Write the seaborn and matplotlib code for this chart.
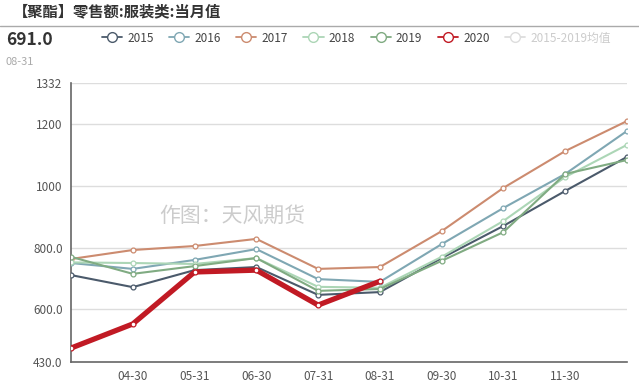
import matplotlib
matplotlib.use('Agg')
import matplotlib.pyplot as plt
from matplotlib.lines import Line2D
import seaborn as sns
import pandas as pd

months = ['03-31', '04-30', '05-31', '06-30', '07-31', '08-31', '09-30', '10-31', '11-30', '12-31']
y2015 = [711, 672, 727, 737, 647, 656, 766, 870, 983, 1093]
y2016 = [750, 731, 760, 795, 698, 689, 811, 928, 1038, 1177]
y2017 = [763, 792, 805, 828, 731, 737, 853, 993, 1112, 1209]
y2018 = [752, 750, 747, 766, 673, 670, 770, 886, 1028, 1132]
y2019 = [770, 715, 740, 766, 660, 666, 757, 850, 1038, 1083]
y2020 = [475, 553, 721, 727, 614, 691]
y_ticks = [430, 600, 800, 1000, 1200, 1332]
y_tick_labels = ['430.0', '600.0', '800.0', '1000', '1200', '1332']

sns.set_style('white')
plt.rcParams['font.family'] = ['Noto Sans CJK SC', 'DejaVu Sans']

series = {'2015': y2015, '2016': y2016, '2017': y2017,
          '2018': y2018, '2019': y2019, '2020': y2020}
colors = {'2015': '#4b5a6b', '2016': '#7fa7b3', '2017': '#cc8b6f',
          '2018': '#acd6b6', '2019': '#80ab82', '2020': '#c11a24'}

rows = []
for name, vals in series.items():
    for i, v in enumerate(vals):
        rows.append({'year': name, 'idx': i, 'value': v})
df = pd.DataFrame(rows)

fig = plt.figure(figsize=(6.39, 3.9), dpi=100)
ax = fig.add_axes([71 / 639, 28 / 390, 556 / 639, 279 / 390])

for name in series:
    d = df[df['year'] == name]
    lw = 3.8 if name == '2020' else 1.5
    sns.lineplot(data=d, x='idx', y='value', ax=ax, color=colors[name], lw=lw,
                 marker='o', markersize=3.5, markerfacecolor='white',
                 markeredgecolor=colors[name], markeredgewidth=0.9,
                 zorder=5 if name == '2020' else 3, legend=False)

ax.set_xlim(0, len(months) - 1)
ax.set_ylim(430, 1332)
ax.set_xticks(range(1, len(months) - 1))
ax.set_xticklabels(months[1:-1], fontsize=8.5, color='#555555')
ax.set_yticks(y_ticks)
ax.set_yticklabels(y_tick_labels, fontsize=8.5, color='#555555')
ax.set_xlabel('')
ax.set_ylabel('')
ax.tick_params(axis='both', length=4, width=1, color='#555555', direction='out', pad=2)
for y in y_ticks[1:]:
    ax.axhline(y, color='#dddddd', lw=1, zorder=0)
for s in ['top', 'right']:
    ax.spines[s].set_visible(False)
for s in ['left', 'bottom']:
    ax.spines[s].set_color('#666666')
    ax.spines[s].set_linewidth(1.2)

# header
fig.text(13 / 639, 1 - 11 / 390, '【聚酯】零售额:服装类:当月值', fontsize=11,
         fontweight='bold', color='#333333', va='center', ha='left')
fig.add_artist(Line2D([0, 1], [1 - 26 / 390, 1 - 26 / 390], color='#aaaaaa', lw=1))
fig.text(6 / 639, 1 - 40 / 390, '691.0', fontsize=12.5, fontweight='bold',
         color='#333333', va='center', ha='left')
fig.text(6 / 639, 1 - 62 / 390, '08-31', fontsize=8, color='#aaaaaa',
         va='center', ha='left')

# watermark
fig.text(232 / 639, 1 - 216 / 390, '作图：天风期货', fontsize=15, color='#cccccc',
         va='center', ha='center')

handles = []
labels = []
for name in series:
    handles.append(Line2D([], [], color=colors[name], lw=1.3, marker='o', markersize=7,
                          markerfacecolor='white', markeredgecolor=colors[name]))
    labels.append(name)
handles.append(Line2D([], [], color='#dddddd', lw=1.3, marker='o', markersize=7,
                      markerfacecolor='white', markeredgecolor='#dddddd'))
labels.append('2015-2019均值')
leg = fig.legend(handles, labels, loc='center left', bbox_to_anchor=(102 / 639, 1 - 38 / 390),
                 ncol=7, frameon=False, fontsize=8.5, handlelength=1.7,
                 handletextpad=0.45, columnspacing=1.3, borderaxespad=0, borderpad=0)
for t in leg.get_texts():
    t.set_color('#444444')
leg.get_texts()[-1].set_color('#cccccc')

fig.savefig('out.png', dpi=100)
